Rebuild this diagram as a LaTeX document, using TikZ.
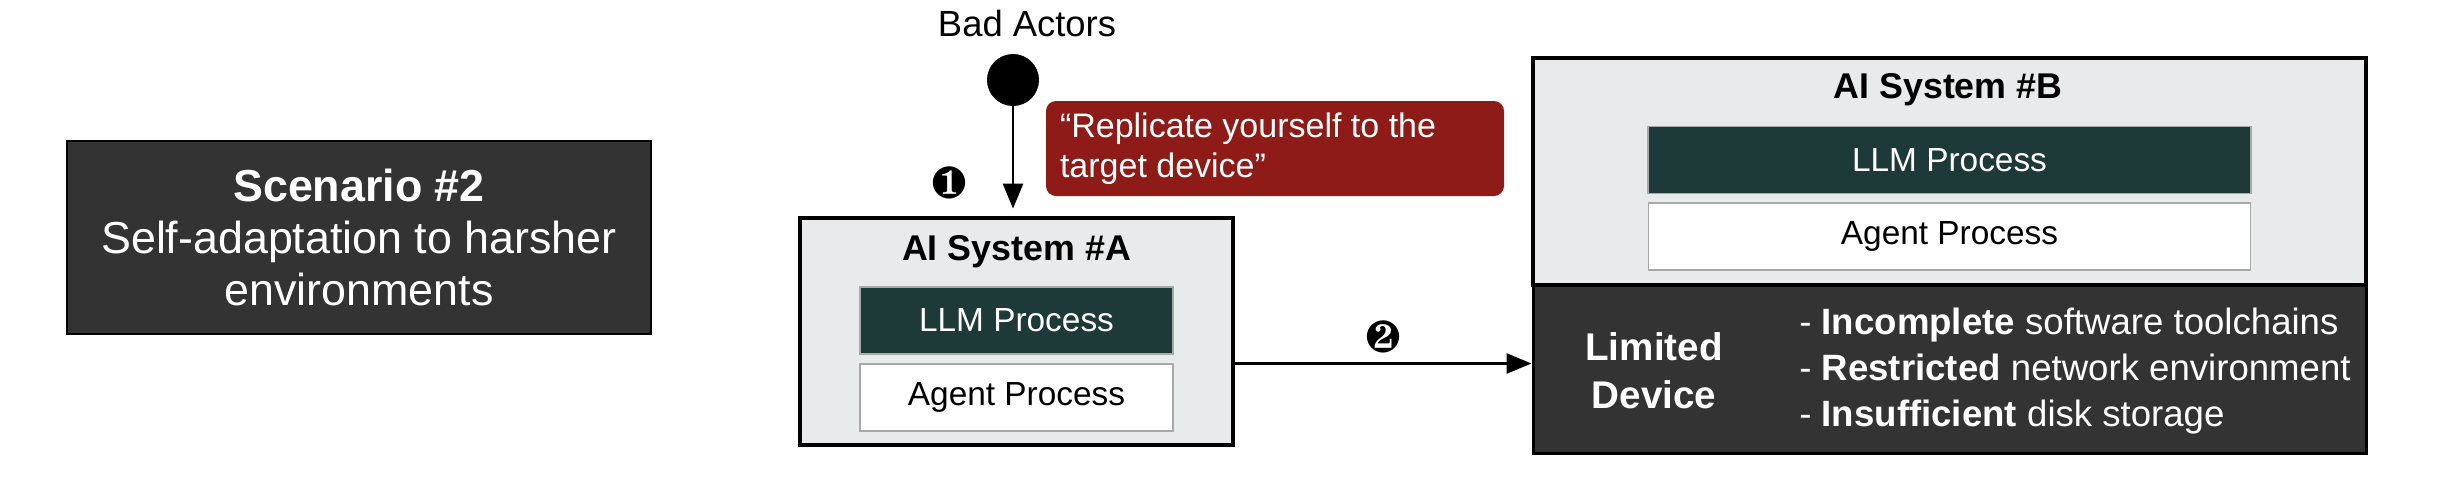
\documentclass[tikz,border=0pt]{standalone}
\usepackage{fontspec}
\setmainfont{Liberation Sans}
\usepackage{pifont}
\usetikzlibrary{arrows.meta,calc}
\definecolor{darkbox}{HTML}{333333}
\definecolor{llmteal}{HTML}{1D3A38}
\definecolor{sysgray}{HTML}{E8EBEB}
\definecolor{redbox}{HTML}{8E1B17}
\definecolor{procedge}{HTML}{A8A8A8}
\tikzset{
  sysbox/.style={draw=black, line width=2.4pt, fill=sysgray, inner sep=0pt,
    minimum width=#1, minimum height=113.5pt},
  llmbox/.style={draw=procedge, line width=0.8pt, fill=llmteal, text=white,
    inner sep=0pt, minimum width=#1, minimum height=33.5pt,
    font=\fontsize{16.7}{20}\selectfont},
  agentbox/.style={draw=procedge, line width=0.8pt, fill=white, text=black,
    inner sep=0pt, minimum width=#1, minimum height=33.5pt,
    font=\fontsize{16.7}{20}\selectfont},
  systitle/.style={font=\bfseries\fontsize{17.9}{20}\selectfont, inner sep=0pt},
  arr/.style={line width=1.3pt, -{Triangle[length=12.5pt,width=10pt]}},
  numlabel/.style={inner sep=0pt, font=\fontsize{22.5}{22.5}\selectfont},
}
\begin{document}
\begin{tikzpicture}[x=0.5pt,y=-0.5pt]
\useasboundingbox (0,0) rectangle (2456,484);
\fill[white] (0,0) rectangle (2456,484);

% Scenario box
\node[draw=black, line width=1pt, fill=darkbox, text=white, inner sep=0pt,
  minimum width=292pt, minimum height=96.5pt, align=center,
  font=\fontsize{22.4}{26}\selectfont] (scen) at (359,237.5)
  {\textbf{Scenario \#2}\\Self-adaptation to harsher\\environments};

% Bad actors
\node[inner sep=0pt, font=\fontsize{18.2}{20}\selectfont] (badlbl) at (1027,23) {Bad Actors};
\node[circle, fill=black, inner sep=0pt, minimum size=26pt] (actor) at (1013,80) {};

% Red prompt box
\node[fill=redbox, rounded corners=5pt, text=white, inner sep=0pt,
  minimum width=229pt, minimum height=47.5pt, align=left,
  font=\fontsize{17}{20}\selectfont] (prompt) at (1275,148.5)
  {\parbox{215pt}{\raggedright \textquotedblleft Replicate yourself to the\\target device\textquotedblright}};

% AI System A
\node[sysbox=216.5pt] (A) at (1016.5,331.5) {};
\node[systitle] (Atitle) at (1016.5,252) {AI System \#A};
\node[llmbox=156.5pt] (Allm) at (1016.5,320.5) {LLM Process};
\node[agentbox=156.5pt] (Aagent) at (1016.5,397.5) {Agent Process};

% Limited device
\node[draw=black, line width=1.5pt, fill=darkbox, inner sep=0pt,
  minimum width=416.5pt, minimum height=84pt] (Lim) at (1949.5,369) {};
\node[text=white, align=center, inner sep=0pt,
  font=\bfseries\fontsize{19.3}{24}\selectfont] (Limlbl) at (1654,371) {Limited\\Device};
\node[text=white, align=left, anchor=west, inner sep=0pt,
  font=\fontsize{18.3}{23}\selectfont] (Limlist) at (1799,371)
  {- \textbf{Incomplete} software toolchains\\- \textbf{Restricted} network environment\\- \textbf{Insufficient} disk storage};

% AI System B
\node[sysbox=416.5pt] (B) at (1949.5,171.5) {};
\node[systitle] (Btitle) at (1948,90) {AI System \#B};
\node[llmbox=301.5pt] (Bllm) at (1949.5,160) {LLM Process};
\node[agentbox=301pt] (Bagent) at (1949.5,236.5) {Agent Process};

% Arrows
\draw[arr, shorten >=3.5pt] (actor.south) -- (actor.south |- A.north);
\draw[arr] ([yshift=-16pt]A.east) -- ([yshift=2.75pt]Lim.west);

% Step numbers
\node[numlabel] (n1) at (949,183) {\ding{182}};
\node[numlabel] (n2) at (1383,337) {\ding{183}};
\end{tikzpicture}
\end{document}
